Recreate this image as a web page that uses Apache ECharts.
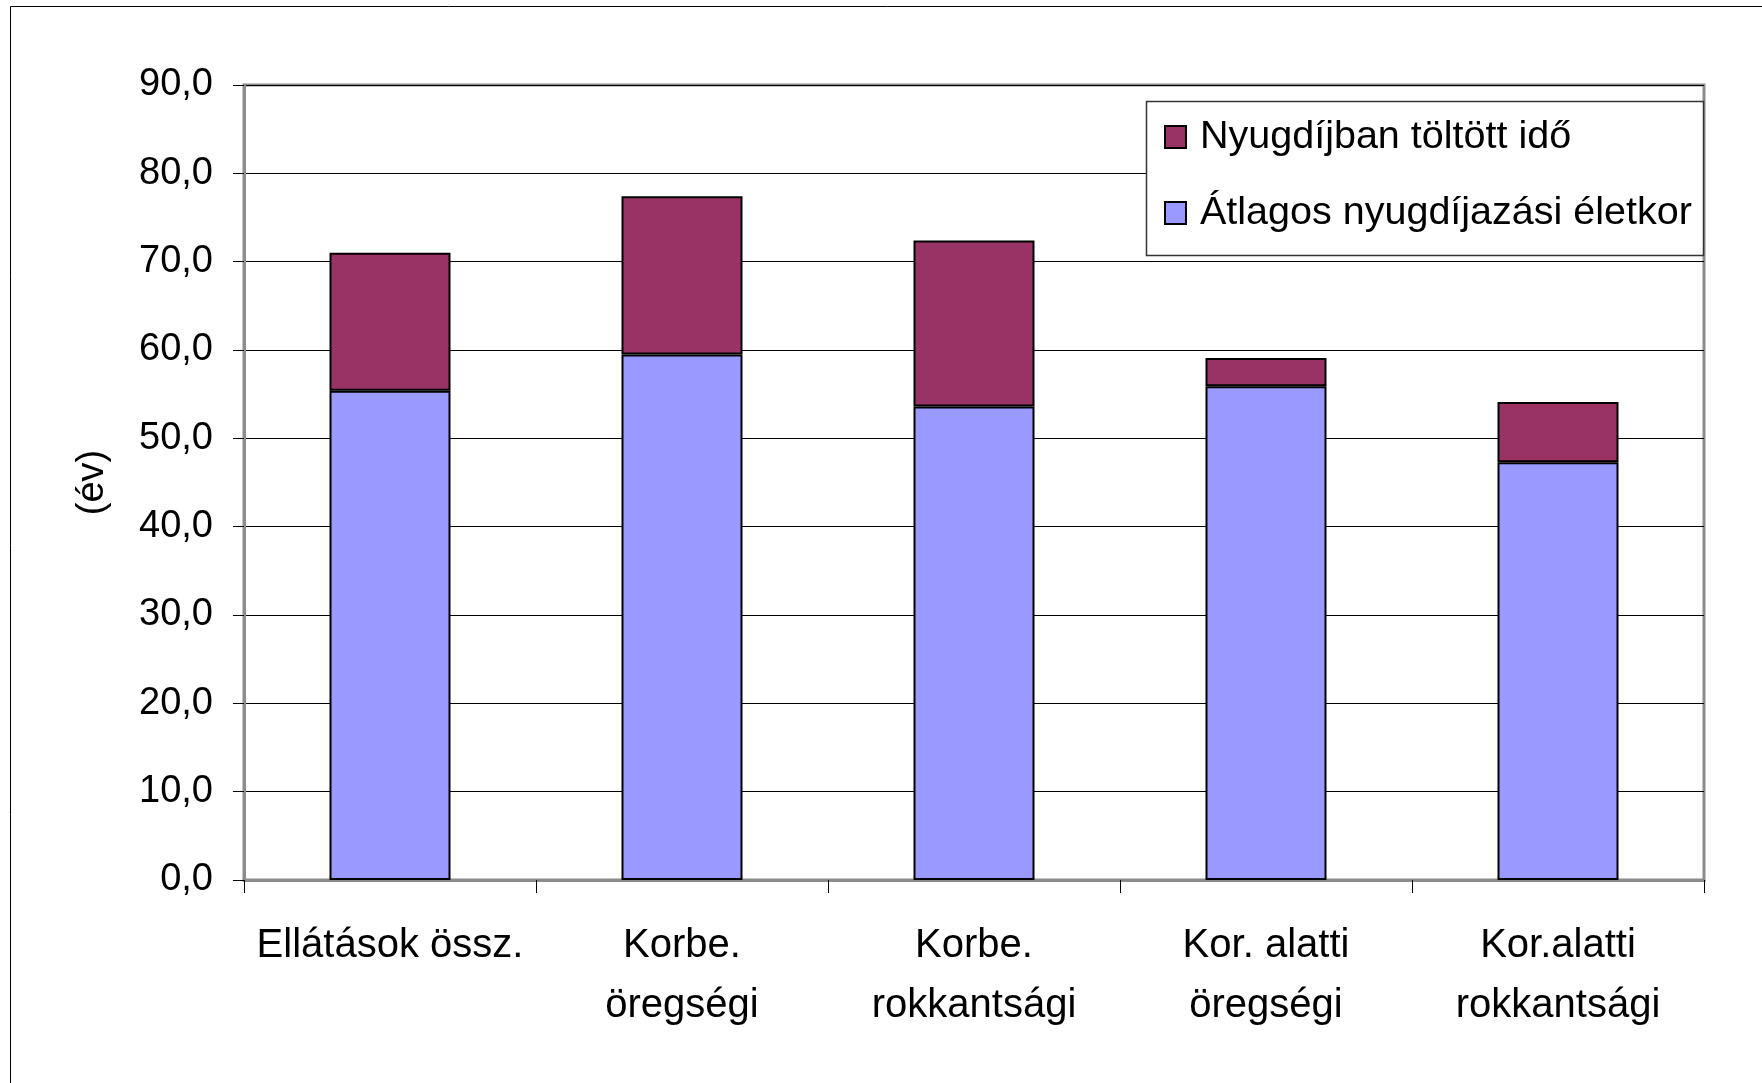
<!DOCTYPE html>
<html>
<head>
<meta charset="utf-8">
<script src="https://cdn.jsdelivr.net/npm/echarts@6/dist/echarts.min.js"></script>
<style>
html,body{margin:0;padding:0;background:#fff;}
#chart{width:1762px;height:1083px;}
</style>
</head>
<body>
<div id="chart"></div>
<script>
const categories = ['Ellátások össz.', 'Korbe.\nöregségi', 'Korbe.\nrokkantsági', 'Kor. alatti\nöregségi', 'Kor.alatti\nrokkantsági'];
const atlagosEletkor = [55.4, 59.5, 53.6, 55.9, 47.3];
const nyugdijbanToltott = [15.6, 17.9, 18.8, 3.2, 6.8];
const seriesNames = ['Átlagos nyugdíjazási életkor', 'Nyugdíjban töltött idő'];
const yAxisName = '(év)';

const FONT = '"Liberation Sans", Arial, sans-serif';
const chart = echarts.init(document.getElementById('chart'));
chart.setOption({
  animation: false,
  backgroundColor: '#fff',
  textStyle: { fontFamily: FONT, color: '#000' },
  grid: { left: 244, right: 58, top: 85, bottom: 203, show: true, borderColor: '#8c8c8c', borderWidth: 3, backgroundColor: 'transparent' },
  graphic: [
    { type: 'rect', silent: true, z: -1, shape: { x: 10.5, y: 6.5, width: 1800, height: 1200 }, style: { fill: 'none', stroke: '#000', lineWidth: 1 } },
    { type: 'rect', silent: true, z: 5, shape: { x: 1146.5, y: 101.5, width: 557, height: 154 }, style: { fill: '#fff', stroke: '#333', lineWidth: 1.5 } }
  ],
  legend: {
    data: [seriesNames[1], seriesNames[0]],
    orient: 'vertical',
    left: 1164,
    top: 117,
    z: 10,
    icon: 'rect',
    itemWidth: 21,
    itemHeight: 22,
    itemGap: 36,
    padding: 0,
    textStyle: { fontFamily: FONT, fontSize: 39.5, color: '#000', lineHeight: 40, padding: [0, 0, 0, 9] }
  },
  xAxis: {
    type: 'category',
    data: categories,
    axisLine: { lineStyle: { color: '#8c8c8c', width: 3 } },
    axisTick: { show: true, length: 13, lineStyle: { color: '#000', width: 1 } },
    axisLabel: { fontFamily: FONT, fontSize: 40, color: '#000', lineHeight: 60, margin: 36, interval: 0 },
    splitLine: { show: false }
  },
  yAxis: {
    type: 'value',
    min: 0, max: 90, interval: 10,
    name: yAxisName,
    nameLocation: 'middle',
    nameRotate: 90,
    nameGap: 132,
    nameTextStyle: { fontFamily: FONT, fontSize: 38, color: '#000' },
    axisLine: { show: true, lineStyle: { color: '#8c8c8c', width: 3 } },
    axisTick: { show: true, length: 11, lineStyle: { color: '#000', width: 1 } },
    axisLabel: { fontFamily: FONT, fontSize: 38, color: '#000', margin: 31, formatter: v => v.toFixed(1).replace('.', ',') },
    splitLine: { lineStyle: { color: '#000', width: 1 } }
  },
  series: [
    { name: seriesNames[0], type: 'bar', stack: 'total', data: atlagosEletkor, barWidth: 121,
      itemStyle: { color: '#9999FF', borderColor: '#000', borderWidth: 2 } },
    { name: seriesNames[1], type: 'bar', stack: 'total', data: nyugdijbanToltott, barWidth: 121,
      itemStyle: { color: '#993366', borderColor: '#000', borderWidth: 2 } }
  ]
});
</script>
</body>
</html>
